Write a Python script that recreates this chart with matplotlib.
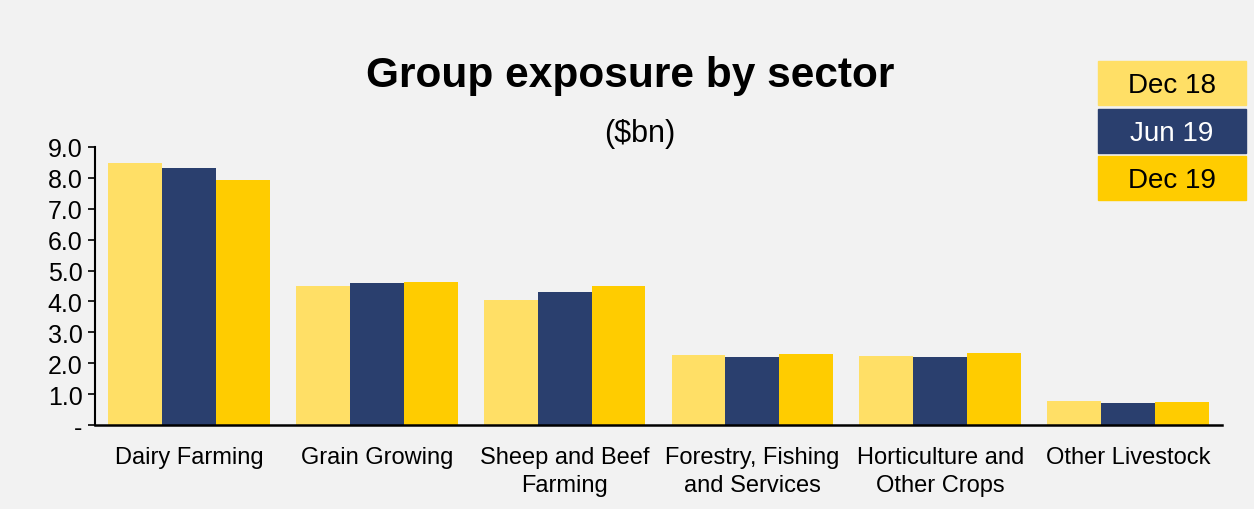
import numpy as np
import matplotlib.pyplot as plt
from matplotlib.patches import Rectangle

plt.rcParams['font.family'] = ['Liberation Sans', 'DejaVu Sans']

sectors = ["Dairy Farming", "Grain Growing", "Sheep and Beef\nFarming",
           "Forestry, Fishing\nand Services", "Horticulture and\nOther Crops",
           "Other Livestock"]
periods = ["Dec 18", "Jun 19", "Dec 19"]
dec18 = [8.48, 4.50, 4.05, 2.27, 2.23, 0.78]
jun19 = [8.32, 4.60, 4.30, 2.20, 2.21, 0.71]
dec19 = [7.93, 4.63, 4.50, 2.30, 2.33, 0.74]

colors = ["#FFDF66", "#2A3F6E", "#FFCC00"]
text_colors = ["black", "white", "black"]
bg = "#F2F2F2"

fig = plt.figure(figsize=(12.54, 5.10), dpi=100, facecolor=bg)
ax = fig.add_axes([95 / 1254, 1 - 426 / 510, (1222 - 95) / 1254, (426 - 148) / 510])
ax.set_facecolor(bg)

x = np.arange(len(sectors))
w = 0.287
for i, vals in enumerate([dec18, jun19, dec19]):
    ax.bar(x + (i - 1) * w, vals, width=w, color=colors[i], label=periods[i])

ax.set_xlim(-0.5, len(sectors) - 0.5)
ax.set_ylim(0, 9)
ax.set_yticks(np.arange(0, 10, 1))
ax.set_yticklabels(["-"] + [f"{v:.1f}" for v in range(1, 10)], fontsize=18)
ax.set_xticks(x)
ax.set_xticklabels(sectors, fontsize=17, linespacing=1.35)
ax.tick_params(axis='x', length=0, pad=15)
ax.tick_params(axis='y', length=5, width=1.2, direction='out', pad=4)
for s in ["top", "right"]:
    ax.spines[s].set_visible(False)
ax.spines["left"].set_linewidth(1.5)
ax.spines["bottom"].set_linewidth(1.8)

fig.text(630 / 1254, 1 - 76 / 510, "Group exposure by sector", ha="center", va="center",
         fontsize=30.5, fontweight="bold")
fig.text(640 / 1254, 1 - 134 / 510, "($bn)", ha="center", va="center", fontsize=22)

# legend boxes
box_tops = [62, 110, 157]
for i, p in enumerate(periods):
    top = box_tops[i]
    h = 44
    fig.patches.append(Rectangle((1098 / 1254, 1 - (top + h) / 510), 148 / 1254, h / 510,
                                 transform=fig.transFigure, color=colors[i]))
    fig.text(1172 / 1254, 1 - (top + h / 2 + 2) / 510, p, ha="center", va="center",
             fontsize=20, color=text_colors[i])

fig.savefig("out.png", dpi=100, facecolor=bg)
